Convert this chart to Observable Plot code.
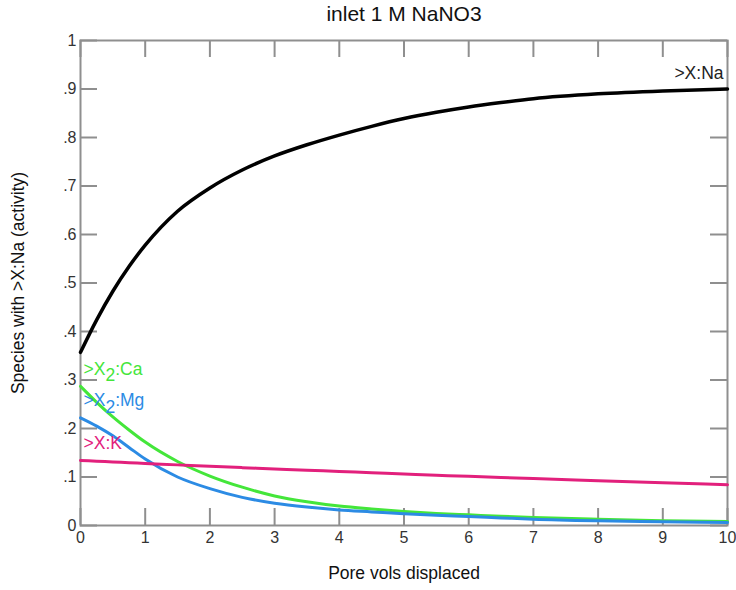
<!DOCTYPE html>
<html>
<head>
<meta charset="utf-8">
<script src="https://cdn.jsdelivr.net/npm/d3@7"></script>
<script src="https://cdn.jsdelivr.net/npm/@observablehq/plot@0.6"></script>
<style>
  body { margin: 0; background: #fff; }
  #chart svg { display: block; }
</style>
</head>
<body>
<div id="chart"></div>
<script>
// Exchanger composition while flushing the column with 1 M NaNO3
const title = "inlet 1 M NaNO3";
const xLabel = "Pore vols displaced";
const yLabel = "Species with >X:Na (activity)";

const poreVols = [0, 0.25, 0.5, 0.75, 1, 1.5, 2, 2.5, 3, 3.5, 4, 4.5, 5, 5.5, 6, 6.5, 7, 8, 9, 10];

const naX  = [0.357, 0.424, 0.483, 0.534, 0.578, 0.648, 0.696, 0.733, 0.762, 0.785, 0.805, 0.823, 0.839, 0.852, 0.863, 0.872, 0.880, 0.890, 0.896, 0.900];
const caX2 = [0.287, 0.254, 0.224, 0.197, 0.172, 0.132, 0.102, 0.079, 0.061, 0.049, 0.040, 0.034, 0.029, 0.025, 0.022, 0.019, 0.0165, 0.0128, 0.0100, 0.0080];
const mgX2 = [0.222, 0.205, 0.185, 0.161, 0.137, 0.100, 0.076, 0.058, 0.046, 0.038, 0.032, 0.028, 0.024, 0.021, 0.0185, 0.0157, 0.013, 0.0097, 0.0077, 0.006];
const kX   = [0.134, 0.1325, 0.131, 0.1295, 0.128, 0.125, 0.122, 0.1193, 0.1166, 0.114, 0.1114, 0.1088, 0.1062, 0.1037, 0.1013, 0.099, 0.0967, 0.0923, 0.088, 0.084];

const speciesNames = [">X:Na", ">X2:Ca", ">X2:Mg", ">X:K"];
const speciesValues = [naX, caX2, mgX2, kX];

const xTicks = [0, 1, 2, 3, 4, 5, 6, 7, 8, 9, 10];
const yTicks = [0, 0.1, 0.2, 0.3, 0.4, 0.5, 0.6, 0.7, 0.8, 0.9, 1];
const yTickLabels = ["0", ".1", ".2", ".3", ".4", ".5", ".6", ".7", ".8", ".9", "1"];

// Long-format table for the line marks
const rows = speciesNames.flatMap((name, s) =>
  poreVols.map((pv, i) => ({pv, value: speciesValues[s][i], species: name}))
);

const W = 736, H = 590;
const margin = {left: 80, right: 9, top: 40, bottom: 65};
const plotW = W - margin.left - margin.right;
const plotH = H - margin.top - margin.bottom;
const tickLen = 17;
const frameGray = "#8f8f8f";
const palette = ["#000000", "#44e63a", "#2c8be4", "#e2207c"];

const chart = Plot.plot({
  width: W,
  height: H,
  marginLeft: margin.left,
  marginRight: margin.right,
  marginTop: margin.top,
  marginBottom: margin.bottom,
  style: {fontFamily: "'Liberation Sans', Arial, sans-serif", fontSize: "16px", color: "#333", background: "#fff"},
  x: {domain: [0, 10]},
  y: {domain: [0, 1]},
  color: {domain: speciesNames, range: palette},
  marks: [
    // inward ticks on all four sides
    Plot.tickY(yTicks, {y: d => d, stroke: frameGray, strokeWidth: 2, insetRight: plotW - tickLen}),
    Plot.tickY(yTicks, {y: d => d, stroke: frameGray, strokeWidth: 2, insetLeft: plotW - tickLen}),
    Plot.tickX(xTicks, {x: d => d, stroke: frameGray, strokeWidth: 2, insetTop: plotH - tickLen}),
    Plot.tickX(xTicks, {x: d => d, stroke: frameGray, strokeWidth: 2, insetBottom: plotH - tickLen}),
    Plot.frame({stroke: frameGray, strokeWidth: 2}),
    Plot.axisY({ticks: yTicks, tickFormat: d => yTickLabels[yTicks.indexOf(d)], tickSize: 0, tickPadding: 4, label: null, fill: "#333", fontSize: 16}),
    Plot.axisX({ticks: xTicks, tickFormat: d => String(d), tickSize: 0, tickPadding: 6, label: null, fill: "#333", fontSize: 16}),
    // species curves
    Plot.line(rows, {x: "pv", y: "value", z: "species", stroke: "species", strokeWidth: d => d.species === ">X:Na" ? 3.5 : 3, curve: "monotone-x"}),
    // series labels at the start (exchanged cations) or end (Na) of each curve
    Plot.text(rows.filter(d => d.species !== ">X:Na"), Plot.selectFirst({x: "pv", y: "value", z: "species", text: "species", fill: "species", textAnchor: "start", dx: 3, dy: -17, fontSize: 17.5})),
    Plot.text(rows.filter(d => d.species === ">X:Na"), Plot.selectLast({x: "pv", y: "value", text: "species", fill: "#222", textAnchor: "end", dx: -4, dy: -16, fontSize: 17.5})),
    // title and axis titles
    Plot.text([title], {frameAnchor: "top", lineAnchor: "middle", dy: -26, fontSize: 21, fill: "#111"}),
    Plot.text([xLabel], {frameAnchor: "bottom", lineAnchor: "middle", dy: 48, fontSize: 17.5, fill: "#111"}),
    Plot.text([yLabel], {frameAnchor: "left", textAnchor: "middle", lineAnchor: "middle", dx: -62, rotate: -90, fontSize: 17.5, fill: "#111"})
  ]
});

// Render the "2" of X2 as a subscript
d3.select(chart).selectAll("text").each(function () {
  const t = this.textContent;
  const m = /^(>X)2(:.*)$/.exec(t);
  if (!m || this.children.length) return;
  const sel = d3.select(this);
  sel.text(null);
  sel.append("tspan").text(m[1]);
  sel.append("tspan").attr("dy", "0.35em").text("2");
  sel.append("tspan").attr("dy", "-0.35em").text(m[2]);
});

document.getElementById("chart").appendChild(chart);
</script>
</body>
</html>
